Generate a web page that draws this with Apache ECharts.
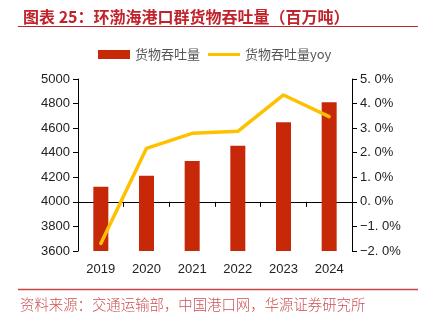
<!DOCTYPE html>
<html><head><meta charset="utf-8">
<script src="https://cdn.jsdelivr.net/npm/echarts@6/dist/echarts.min.js"></script>
<style>html,body{margin:0;padding:0;background:#fff}#c{width:422px;height:325px}</style>
</head><body><div id="c"></div>
<script>
const categories = ['2019','2020','2021','2022','2023','2024'];
const throughput = [4122, 4212, 4333, 4456, 4648, 4810];
const yoy = [-1.69, 2.18, 2.79, 2.87, 4.35, 3.47];
const leftTicks = {min: 3600, max: 5000, interval: 200};
const rightTicks = {min: -2, max: 5, interval: 1};

const chart = echarts.init(document.getElementById('c'));
const labelFont = {fontFamily: 'Arial, "Liberation Sans", sans-serif', fontSize: 13, color: '#222'};
chart.setOption({
  animation: false,
  textStyle: {fontFamily: '"Noto Sans CJK SC", sans-serif'},
  title: {
    text: '图表 25：环渤海港口群货物吞吐量（百万吨）',
    left: 18, top: 4,
    textStyle: {fontSize: 16, fontWeight: 'bold', color: '#C0232B', fontFamily: '"Noto Sans CJK SC", sans-serif'}
  },
  graphic: [
    {type: 'line', shape: {x1: 18, y1: 26.5, x2: 418, y2: 26.5}, style: {stroke: '#C0232B', lineWidth: 1.2}},
    {type: 'line', shape: {x1: 18, y1: 289.5, x2: 418, y2: 289.5}, style: {stroke: '#C8434A', lineWidth: 1.5}},
    {type: 'text', left: 20, top: 297, style: {text: '资料来源：交通运输部，中国港口网，华源证券研究所', fill: '#CC5055', fontSize: 14.4, fontFamily: '"Noto Sans CJK SC", sans-serif', fontWeight: 300}}
  ],
  legend: {
    left: 93, top: 43,
    itemWidth: 32, itemHeight: 9, itemGap: 8,
    textStyle: {fontSize: 13, color: '#555', fontFamily: '"Noto Sans CJK SC", sans-serif'},
    data: [
      {name: '货物吞吐量', icon: 'rect'},
      {name: '货物吞吐量yoy', icon: 'path://M0,0L32,0L32,3L0,3Z'}
    ]
  },
  grid: {left: 78, right: 70, top: 79, bottom: 74},
  xAxis: {
    type: 'category', data: categories,
    axisLine: {lineStyle: {color: '#000'}},
    axisTick: {show: true, length: 5, lineStyle: {color: '#000'}},
    axisLabel: Object.assign({margin: 12}, labelFont)
  },
  yAxis: [
    {type: 'value', min: leftTicks.min, max: leftTicks.max, interval: leftTicks.interval,
     axisLine: {show: true, lineStyle: {color: '#000'}},
     axisTick: {show: true, length: 5, lineStyle: {color: '#000'}},
     splitLine: {show: false},
     axisLabel: Object.assign({margin: 8, formatter: v => String(v)}, labelFont)},
    {type: 'value', min: rightTicks.min, max: rightTicks.max, interval: rightTicks.interval,
     position: 'right',
     axisLine: {show: true, lineStyle: {color: '#000'}},
     axisTick: {show: true, length: 5, lineStyle: {color: '#000'}},
     splitLine: {show: false},
     axisLabel: Object.assign({margin: 8, formatter: v => (v < 0 ? '−' : '') + Math.abs(v).toFixed(1).replace('.', '. ') + '%'}, labelFont)}
  ],
  series: [
    {name: '货物吞吐量', type: 'bar', data: throughput, barWidth: 15, itemStyle: {color: '#C62808'}, yAxisIndex: 0},
    {name: '货物吞吐量yoy', type: 'line', data: yoy, yAxisIndex: 1, symbol: 'none',
     lineStyle: {color: '#FFC000', width: 3.5, cap: 'round'}, itemStyle: {color: '#FFC000'}}
  ]
});
</script></body></html>
